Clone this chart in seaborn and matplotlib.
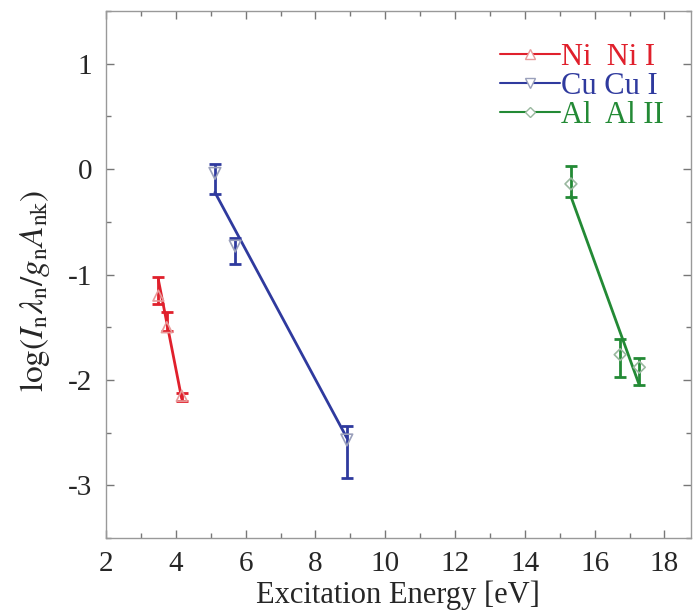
import numpy as np
import pandas as pd
import matplotlib
matplotlib.use("Agg")
import matplotlib.pyplot as plt
from matplotlib.lines import Line2D
from matplotlib.ticker import MultipleLocator
import seaborn as sns

# ---- data ----
ni_x = [3.50, 3.74, 4.17]
ni_y = [-1.20, -1.50, -2.15]
ni_err_lo = [0.08, 0.04, 0.05]
ni_err_hi = [0.18, 0.14, 0.03]
ni_fit_x = [3.50, 4.17]
ni_fit_y = [-1.05, -2.18]

cu_x = [5.12, 5.70, 8.90]
cu_y = [-0.04, -0.73, -2.57]
cu_err_lo = [0.20, 0.17, 0.36]
cu_err_hi = [0.09, 0.08, 0.13]
cu_fit_x = [5.12, 8.90]
cu_fit_y = [-0.22, -2.55]

al_x = [15.32, 16.73, 17.28]
al_y = [-0.14, -1.76, -1.88]
al_err_lo = [0.12, 0.21, 0.17]
al_err_hi = [0.17, 0.15, 0.09]
al_fit_x = [15.32, 17.28]
al_fit_y = [-0.26, -2.05]

labels = ["Ni  Ni I", "Cu Cu I", "Al  Al II"]
colors = ["#e0202c", "#2f3a9e", "#238a35"]
marker_colors = ["#e89a9a", "#9aa0bb", "#9ab89f"]
markers = ["^", "v", "D"]
marker_sizes = [60, 70, 36]

xticks = [2, 4, 6, 8, 10, 12, 14, 16, 18]
yticks = [-3, -2, -1, 0, 1]

sns.set_style("ticks")
plt.rcParams["font.family"] = ["Liberation Serif", "DejaVu Serif"]
plt.rcParams["mathtext.fontset"] = "stix"

fig = plt.figure(figsize=(6.93, 6.15), dpi=100)
ax = fig.add_axes([0.153, 0.1252, 0.8436, 0.8568])

series = [
    (ni_x, ni_y, ni_err_lo, ni_err_hi, ni_fit_x, ni_fit_y),
    (cu_x, cu_y, cu_err_lo, cu_err_hi, cu_fit_x, cu_fit_y),
    (al_x, al_y, al_err_lo, al_err_hi, al_fit_x, al_fit_y),
]

handles = []
for i, (x, y, elo, ehi, fx, fy) in enumerate(series):
    c = colors[i]
    fit = pd.DataFrame({"x": fx, "y": fy})
    sns.lineplot(data=fit, x="x", y="y", ax=ax, color=c, linewidth=2.0,
                 estimator=None, sort=False, zorder=2)
    ax.errorbar(x, y, yerr=[elo, ehi], fmt="none", ecolor=c,
                elinewidth=2.0, capsize=4.5, capthick=2.0, zorder=3)
    pts = pd.DataFrame({"x": x, "y": y})
    sns.scatterplot(data=pts, x="x", y="y", ax=ax, marker=markers[i],
                    s=marker_sizes[i], facecolor="none",
                    edgecolor=marker_colors[i], linewidth=1.2, zorder=4)
    handles.append(Line2D([0], [0], color=c, linewidth=1.5,
                          marker=markers[i], markersize=7 if i < 2 else 5,
                          markerfacecolor="white",
                          markeredgecolor=marker_colors[i],
                          markeredgewidth=1.0))

ax.set_xlim(2, 18.75)
ax.set_ylim(-3.5, 1.5)
ax.set_xticks(xticks)
ax.set_yticks(yticks)
ax.set_xticklabels([str(t) for t in xticks])
ax.set_yticklabels([str(t) for t in yticks])
ax.xaxis.set_minor_locator(MultipleLocator(1))
ax.yaxis.set_minor_locator(MultipleLocator(0.5))
ax.tick_params(which="both", direction="in", top=True, right=True,
               color="#777777", labelsize=21)
ax.tick_params(which="major", length=6, width=1)
ax.tick_params(which="minor", length=3.5, width=1)
ax.tick_params(axis="x", pad=9)
ax.tick_params(axis="y", pad=10)
for s in ax.spines.values():
    s.set_color("#999999")
    s.set_linewidth(1.0)

ax.set_xlabel("Excitation Energy [eV]", fontsize=22, labelpad=3)
ax.set_ylabel(r"$\mathrm{log}(I_{\mathrm{n}}\lambda_{\mathrm{n}}/g_{\mathrm{n}}A_{\mathrm{nk}})$",
              fontsize=24)
ax.yaxis.set_label_coords(-0.093, 0.469)

leg = ax.legend(handles, labels, loc="upper left", frameon=False,
                fontsize=22, handlelength=1.95, handletextpad=0.05,
                labelspacing=0.0, borderaxespad=0.0, borderpad=0.0,
                bbox_to_anchor=(0.674, 0.940))
for t, c in zip(leg.get_texts(), colors):
    t.set_color(c)

fig.savefig("out.png", dpi=100)
